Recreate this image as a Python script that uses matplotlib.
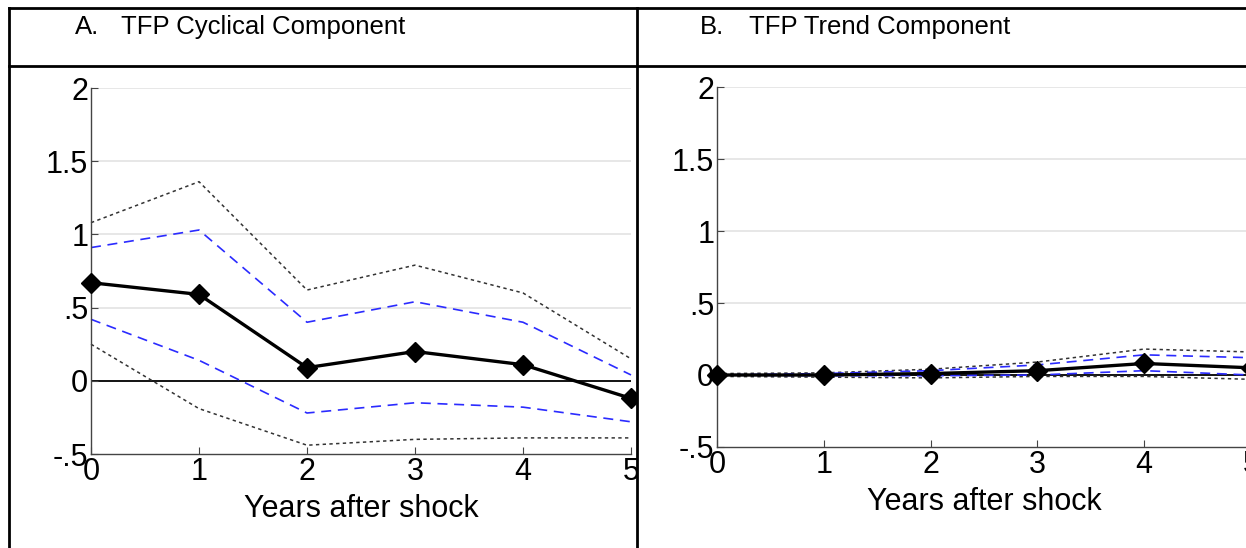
import matplotlib.pyplot as plt
from matplotlib.patches import Rectangle
from matplotlib.lines import Line2D

plt.rcParams['font.family'] = ['Liberation Sans', 'DejaVu Sans']

# years after shock
years = [0, 1, 2, 3, 4, 5]

# panel A: TFP cyclical component
cyc_est = [0.67, 0.59, 0.09, 0.20, 0.11, -0.12]
cyc_hi68 = [0.91, 1.03, 0.40, 0.54, 0.40, 0.04]
cyc_lo68 = [0.42, 0.14, -0.22, -0.15, -0.18, -0.28]
cyc_hi90 = [1.08, 1.36, 0.62, 0.79, 0.60, 0.15]
cyc_lo90 = [0.25, -0.19, -0.44, -0.40, -0.39, -0.39]

# panel B: TFP trend component
trd_est = [0.0, 0.0, 0.01, 0.03, 0.08, 0.05]
trd_hi68 = [0.0, 0.01, 0.03, 0.07, 0.14, 0.12]
trd_lo68 = [0.0, -0.005, -0.005, 0.0, 0.03, 0.0]
trd_hi90 = [0.01, 0.015, 0.04, 0.09, 0.18, 0.16]
trd_lo90 = [-0.01, -0.015, -0.02, -0.01, -0.01, -0.03]

yticks = [-0.5, 0, 0.5, 1, 1.5, 2]
ytick_labels = ['-.5', '0', '.5', '1', '1.5', '2']

W, H = 1246, 548
fig = plt.figure(figsize=(W / 100, H / 100), dpi=100)


def px_axes(left, right, top, bottom):
    return [left / W, 1 - bottom / H, (right - left) / W, (bottom - top) / H]


def draw_panel(ax, est, hi68, lo68, hi90, lo90):
    ax.set_xlim(0, 5)
    ax.set_ylim(-0.5, 2)
    for yv in [0.5, 1, 1.5, 2]:
        ax.axhline(yv, color='#e3e3e3', lw=1.2, zorder=0)
    ax.axhline(0, color='black', lw=1.3, zorder=1)
    ax.plot(years, hi90, color='#333333', lw=1.1, ls=(0, (2.2, 2.2)), clip_on=False)
    ax.plot(years, lo90, color='#333333', lw=1.1, ls=(0, (2.2, 2.2)), clip_on=False)
    ax.plot(years, hi68, color='#2b2bff', lw=1.2, ls=(0, (6, 4)), clip_on=False)
    ax.plot(years, lo68, color='#2b2bff', lw=1.2, ls=(0, (6, 4)), clip_on=False)
    ax.plot(years, est, color='black', lw=2.4, marker='D', ms=10.5, clip_on=False, zorder=3)
    ax.set_xticks(years)
    ax.set_yticks(yticks)
    ax.set_yticklabels(ytick_labels)
    ax.tick_params(direction='in', length=5, labelsize=22, color='#444444', pad=2)
    for s in ['top', 'right']:
        ax.spines[s].set_visible(False)
    for s in ['left', 'bottom']:
        ax.spines[s].set_color('#444444')
        ax.spines[s].set_linewidth(1.0)
    ax.set_xlabel('Years after shock', fontsize=22, labelpad=5)
    ax.patch.set_alpha(0)


axA = fig.add_axes(px_axes(91, 631, 88, 454), zorder=0)
draw_panel(axA, cyc_est, cyc_hi68, cyc_lo68, cyc_hi90, cyc_lo90)

# white cover so panel A is cut at the table divider
fig.add_artist(Rectangle((638 / W, 0), 1, 1, transform=fig.transFigure,
                         facecolor='white', edgecolor='none', zorder=0.5))

axB = fig.add_axes(px_axes(717, 1251, 87, 447), zorder=1)
draw_panel(axB, trd_est, trd_hi68, trd_lo68, trd_hi90, trd_lo90)

# table lines
def fig_line(x0, y0, x1, y1, lw=2):
    fig.add_artist(Line2D([x0 / W, x1 / W], [1 - y0 / H, 1 - y1 / H],
                          transform=fig.transFigure, color='black', lw=lw, zorder=5))

fig_line(9, 8, W, 8)
fig_line(9, 66, W, 66)
fig_line(9, 8, 9, H)
fig_line(637, 8, 637, H)

# header text
fig.text(75 / W, 1 - 27 / H, 'A.', fontsize=18.5, va='center', ha='left')
fig.text(121 / W, 1 - 27 / H, 'TFP Cyclical Component', fontsize=18.5, va='center', ha='left')
fig.text(700 / W, 1 - 27 / H, 'B.', fontsize=18.5, va='center', ha='left')
fig.text(749 / W, 1 - 27 / H, 'TFP Trend Component', fontsize=18.5, va='center', ha='left')

fig.savefig('out.png', dpi=100, facecolor='white')
